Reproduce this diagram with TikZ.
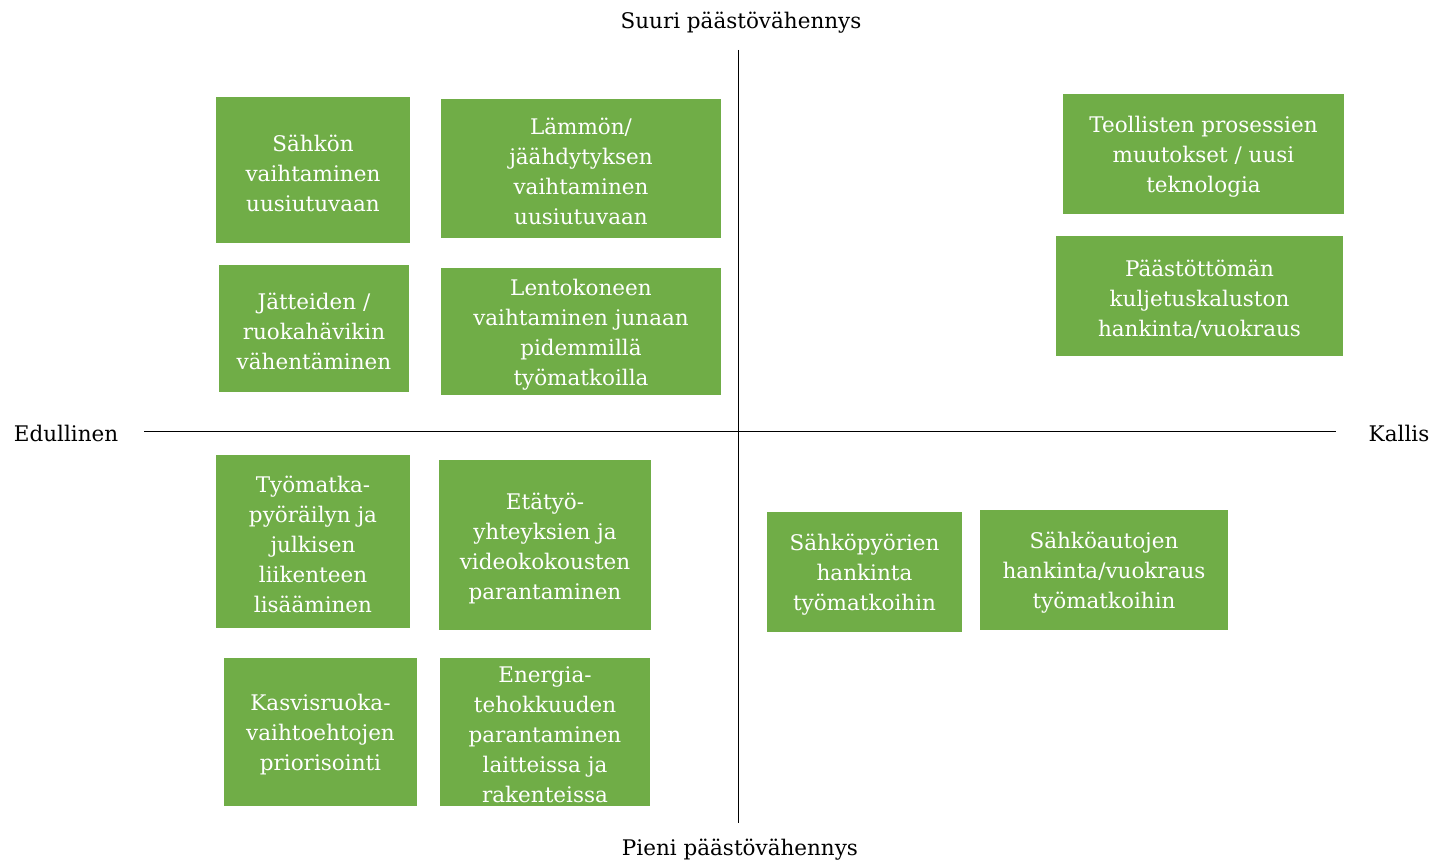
\documentclass[tikz,border=0pt]{standalone}
\usepackage{fontspec}
\setmainfont{DejaVu Serif}
\definecolor{boxgreen}{HTML}{70AD47}
\tikzset{
  gbox/.style={fill=boxgreen, draw=none},
  gtext/.style={text=white, align=center, font=\fontsize{21.5}{30}\selectfont, inner sep=0pt},
  axlabel/.style={text=black, font=\fontsize{21.5}{30}\selectfont, inner sep=0pt},
  axis/.style={draw=black, line width=0.9pt}
}
\newcommand{\gb}[6]{%
  \fill[gbox] (#1,#2) rectangle (#3,#4);
  \node[gtext] (#5) at ({(#1+#3)/2},{(#2+#4)/2+3}) {#6};
}
\begin{document}
\begin{tikzpicture}[x=1pt,y=-1pt]
\useasboundingbox (0,0) rectangle (1442,861);
% axes
\coordinate (vt) at (738,50);
\coordinate (vb) at (738,823);
\coordinate (hl) at (144,431);
\coordinate (hr) at (1336,431);
\draw[axis] (vt) -- (vb);
\draw[axis] (hl) -- (hr);
\node[axlabel] (top) at (741,23) {Suuri päästövähennys};
\node[axlabel] (bot) at (740,850) {Pieni päästövähennys};
\node[axlabel] (left) at (66,433) {Edullinen};
\node[axlabel] (right) at (1399,433) {Kallis};
% boxes
\gb{216}{97}{410}{243}{b1}{Sähkön\\vaihtaminen\\uusiutuvaan}
\gb{441}{99}{721}{238}{b2}{Lämmön/\\jäähdytyksen\\vaihtaminen\\uusiutuvaan}
\gb{219}{265}{409}{392}{b3}{Jätteiden /\\ruokahävikin\\vähentäminen}
\gb{441}{268}{721}{395}{b4}{Lentokoneen\\vaihtaminen junaan\\pidemmillä\\työmatkoilla}
\gb{1063}{94}{1344}{214}{b5}{Teollisten prosessien\\muutokset / uusi\\teknologia}
\gb{1056}{236}{1343}{356}{b6}{Päästöttömän\\kuljetuskaluston\\hankinta/vuokraus}
\gb{216}{455}{410}{628}{b7}{Työmatka-\\pyöräilyn ja\\julkisen\\liikenteen\\lisääminen}
\gb{439}{460}{651}{630}{b8}{Etätyö-\\yhteyksien ja\\videokokousten\\parantaminen}
\gb{224}{658}{417}{806}{b9}{Kasvisruoka-\\vaihtoehtojen\\priorisointi}
\gb{440}{658}{650}{806}{b10}{Energia-\\tehokkuuden\\parantaminen\\laitteissa ja\\rakenteissa}
\gb{767}{512}{962}{632}{b11}{Sähköpyörien\\hankinta\\työmatkoihin}
\gb{980}{510}{1228}{630}{b12}{Sähköautojen\\hankinta/vuokraus\\työmatkoihin}
\end{tikzpicture}
\end{document}
